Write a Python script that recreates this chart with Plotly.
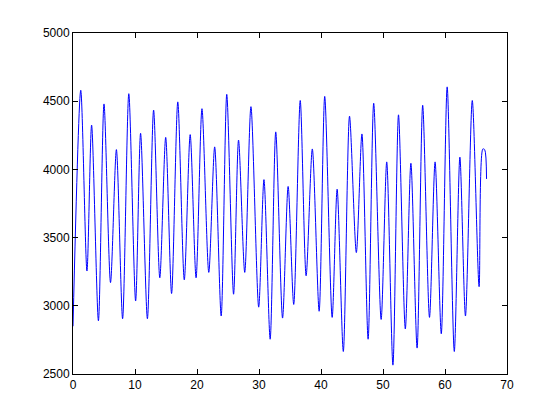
import plotly.graph_objects as go

# turning points of the signal
t = [0.0, 1.25, 2.25, 3.0, 4.1, 5.0, 6.05, 7.0, 8.0, 9.0, 10.1, 10.9, 12.0,
     13.0, 14.0, 14.95, 15.9, 16.9, 17.95, 18.9, 19.85, 20.8, 21.9, 22.85, 23.9,
     24.8, 25.9, 26.7, 27.7, 28.7, 29.95, 30.8, 31.8, 32.7, 33.8, 34.7, 35.6,
     36.65, 37.6, 38.6, 39.7, 40.6, 41.8, 42.6, 43.6, 44.6, 45.7, 46.6, 47.6,
     48.5, 49.7, 50.6, 51.6, 52.5, 53.6, 54.5, 55.5, 56.4, 57.5, 58.4, 59.4,
     60.35, 61.5, 62.4, 63.3, 64.4, 65.5, 66.1, 66.4, 66.7]
amp = [2850, 4580, 3255, 4325, 2890, 4480, 3170, 4145, 2905, 4555, 3035, 4265, 2905,
       4435, 3205, 4235, 3090, 4495, 3190, 4255, 3205, 4445, 3245, 4165, 2925,
       4550, 3085, 4215, 3245, 4460, 2990, 3925, 2755, 4275, 2910, 3875, 3010,
       4505, 3220, 4150, 2960, 4535, 2915, 3855, 2665, 4390, 3390, 4260, 2755,
       4485, 2900, 4055, 2565, 4400, 2830, 4045, 2690, 4470, 2915, 4055, 2795,
       4605, 2665, 4090, 2925, 4505, 3140, 4150, 4145, 3930]

fig = go.Figure(go.Scatter(x=t, y=amp, mode='lines',
                           line=dict(color='#0000ff', width=1, shape='spline', smoothing=0.8)))

axis_style = dict(showline=True, linecolor='black', linewidth=1, mirror='ticks',
                  ticks='inside', ticklen=5, tickcolor='black', showgrid=False,
                  zeroline=False, tickfont=dict(family='Liberation Sans', size=12, color='black'))
fig.update_xaxes(range=[0, 70], tick0=0, dtick=10, **axis_style)
fig.update_yaxes(range=[2500, 5000], tick0=2500, dtick=500, **axis_style)
# page body has an 8px margin, so the plot box is shifted up/left to land where it should
fig.update_layout(width=560, height=420, showlegend=False,
                  margin=dict(l=65, r=61, t=25, b=54),
                  plot_bgcolor='white', paper_bgcolor='white')
fig.write_html("out.html")
